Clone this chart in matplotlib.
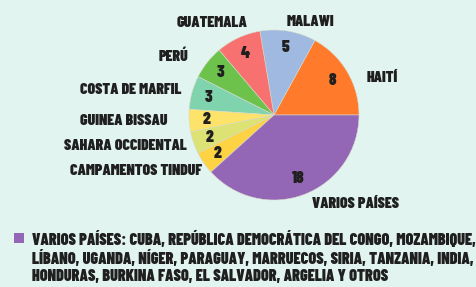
import matplotlib.pyplot as plt
from matplotlib.patches import Rectangle

names = ["HAITÍ", "MALAWI", "GUATEMALA", "PERÚ", "COSTA DE MARFIL",
         "GUINEA BISSAU", "SAHARA OCCIDENTAL", "CAMPAMENTOS TINDUF", "VARIOS PAÍSES"]
values = [8, 5, 4, 3, 3, 2, 2, 2, 18]
colors = ["#ff7a2b", "#9fb9e1", "#f87171", "#6dc24b", "#7fd4ae",
          "#fde36a", "#dde274", "#fdd344", "#9467b6"]
legend_text = ("VARIOS PAÍSES: CUBA, REPÚBLICA DEMOCRÁTICA DEL CONGO, MOZAMBIQUE,\n"
               "LÍBANO, UGANDA, NÍGER, PARAGUAY, MARRUECOS, SIRIA, TANZANIA, INDIA,\n"
               "HONDURAS, BURKINA FASO, EL SALVADOR, ARGELIA Y OTROS")

FONT = ["Barlow Condensed", "Liberation Sans Narrow", "DejaVu Sans"]
BG = "#e1f4ef"
INK = "#1f1f1f"

fig = plt.figure(figsize=(4.76, 2.87), dpi=100, facecolor=BG)
ax = fig.add_axes([0, 0, 1, 1])
ax.set_facecolor(BG)

wedges, _, autotexts = ax.pie(
    values, colors=colors, startangle=0, counterclock=True,
    center=(274, 172), radius=85, autopct=lambda p: f"{p * sum(values) / 100:.0f}",
    pctdistance=0.8, frame=True,
    wedgeprops=dict(edgecolor="#d9d9c8", linewidth=0.4),
    textprops=dict(family=FONT, fontweight=900, fontsize=12, color=INK))
ax.set_xlim(0, 476)
ax.set_ylim(0, 287)
ax.set_aspect("equal")
ax.axis("off")

# outside label placement (pixel coords, y up), with alignment
label_pos = [
    (367, 209, "left"),
    (310, 265, "center"),
    (212, 264, "center"),
    (188, 230, "right"),
    (181, 197, "right"),
    (168, 166, "right"),
    (187, 141, "right"),
    (202, 116, "right"),
    (312, 83, "left"),
]
for name, (x, y, ha) in zip(names, label_pos):
    ax.text(x, y, name, ha=ha, va="center", family=FONT, fontweight=900,
            fontsize=11.3, color=INK)

fig.patches.append(Rectangle((14 / 476, 1 - 243 / 287), 10 / 476, 10 / 287,
                             transform=fig.transFigure, facecolor=colors[-1],
                             edgecolor="none"))
fig.text(32 / 476, 1 - 231 / 287, legend_text, ha="left", va="top",
         family=FONT, fontweight=900, fontsize=11.6, color=INK,
         linespacing=1.15)

fig.savefig("out.png", dpi=100, facecolor=BG)
